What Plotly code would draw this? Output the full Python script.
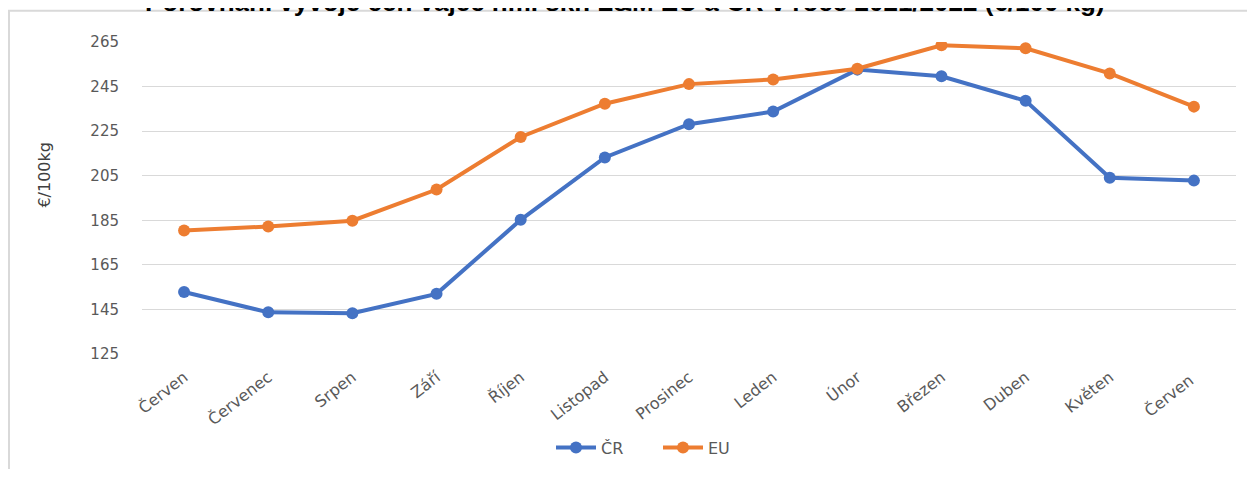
import plotly.graph_objects as go

months = ["Červen", "Červenec", "Srpen", "Září", "Říjen", "Listopad", "Prosinec",
          "Leden", "Únor", "Březen", "Duben", "Květen", "Červen "]
cr_values = [152.8, 143.7, 143.3, 152.0, 185.2, 213.2, 228.1, 233.8, 252.6, 249.6, 238.6, 204.1, 202.8]
eu_values = [180.4, 182.2, 184.8, 198.8, 222.4, 237.3, 246.1, 248.2, 253.0, 263.5, 262.2, 250.9, 236.0]
y_ticks = [125, 145, 165, 185, 205, 225, 245, 265]

# page has an 8px body margin; figure coordinates = page coordinates - 8
OFF = 8
W, H = 1255 - OFF, 477 - OFF
ML, MR, MT, MB = 142 - OFF, 19, 42 - OFF, 115
PW, PH = W - ML - MR, H - MT - MB

def px_x(p):
    return (p - OFF - ML) / PW

def px_y(p):
    return 1 - (p - OFF - MT) / PH

fig = go.Figure()
fig.add_trace(go.Scatter(x=months, y=cr_values, name="ČR", mode="lines+markers",
                         line=dict(color="#4472C4", width=4),
                         marker=dict(size=12, color="#4472C4")))
fig.add_trace(go.Scatter(x=months, y=eu_values, name="EU", mode="lines+markers",
                         line=dict(color="#ED7D31", width=4),
                         marker=dict(size=12, color="#ED7D31")))

tick_font = dict(family="DejaVu Sans, Open Sans, sans-serif", size=15, color="#595959")

fig.update_layout(
    width=W, height=H,
    margin=dict(l=ML, r=MR, t=MT, b=MB),
    paper_bgcolor="white", plot_bgcolor="white",
    showlegend=True,
    legend=dict(orientation="h", x=px_x(658), xanchor="center", y=px_y(458), yanchor="middle",
                font=dict(family="DejaVu Sans, Open Sans, sans-serif", size=16, color="#595959"),
                entrywidth=52, itemwidth=40),
    xaxis=dict(type="category", range=[-0.5, 12.5], tickangle=-38,
               tickfont=dict(family="DejaVu Sans, Open Sans, sans-serif", size=16, color="#595959"),
               showgrid=False, showline=False, ticks="", ticklabelstandoff=10),
    yaxis=dict(range=[125, 265], tickvals=y_ticks, tickfont=tick_font,
               showgrid=True, gridcolor="#D9D9D9", gridwidth=1, zeroline=False,
               showline=False, ticks="", ticklabelstandoff=22),
    annotations=[
        dict(text="<b>Porovnání vývoje cen vajec hm. skr. L&M EU a ČR v roce 2021/2022 (€/100 kg)</b>",
             xref="paper", yref="paper", x=px_x(625), y=px_y(1), xanchor="center",
             yanchor="middle", showarrow=False,
             font=dict(family="Liberation Sans, Arial, sans-serif", size=26, color="#000000")),
        dict(text="€/100kg", xref="paper", yref="paper", x=px_x(45), y=px_y(178),
             xanchor="center", yanchor="middle", textangle=-90, showarrow=False,
             font=dict(family="DejaVu Sans, Open Sans, sans-serif", size=16, color="#404040")),
    ],
    shapes=[
        dict(type="line", xref="paper", yref="paper", x0=px_x(9), x1=px_x(9),
             y0=px_y(10), y1=px_y(480), line=dict(color="#D9D9D9", width=2)),
        dict(type="line", xref="paper", yref="paper", x0=px_x(8), x1=px_x(1260),
             y0=px_y(10), y1=px_y(10), line=dict(color="#D9D9D9", width=2)),
    ],
)

fig.write_html("out.html", config={"displayModeBar": False})
